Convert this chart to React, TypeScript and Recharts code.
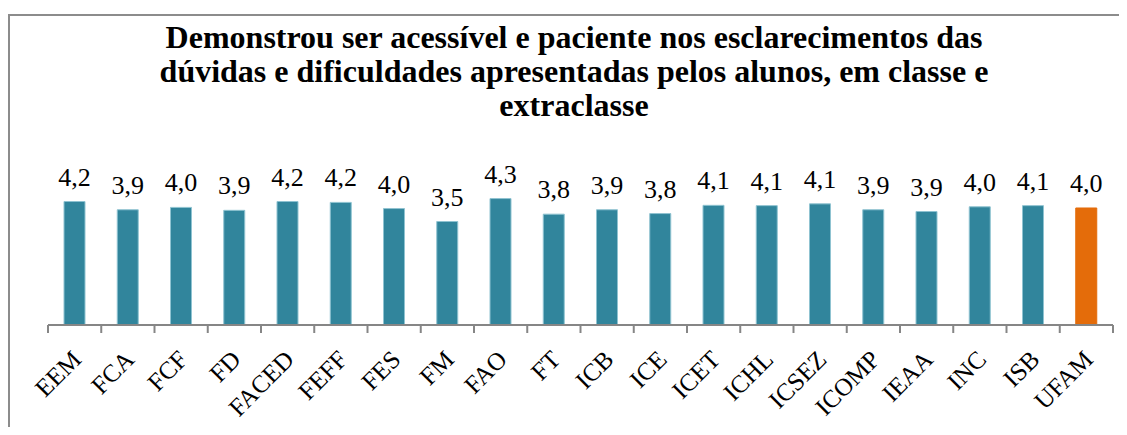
import React from "react";
import { BarChart, Bar, XAxis, YAxis, Cell, LabelList } from "recharts";

const categories = ["EEM", "FCA", "FCF", "FD", "FACED", "FEFF", "FES", "FM", "FAO", "FT", "ICB", "ICE", "ICET", "ICHL", "ICSEZ", "ICOMP", "IEAA", "INC", "ISB", "UFAM"];
const values = [4.2, 3.92, 4.0, 3.9, 4.2, 4.17, 3.96, 3.52, 4.3, 3.77, 3.92, 3.79, 4.07, 4.06, 4.12, 3.92, 3.86, 4.02, 4.06, 3.98];
const titleLines = [
  "Demonstrou ser acessível e paciente nos esclarecimentos das",
  "dúvidas e dificuldades apresentadas pelos alunos, em classe e",
  "extraclasse",
];

const TEAL = "#31859C";
const ORANGE = "#E46C0A";
const FONT = "'Liberation Serif', 'Times New Roman', serif";

const data = categories.map((c, i) => ({ name: c, value: values[i] }));

const fmt = (v: any) => Number(v).toFixed(1).replace(".", ",");

const CatTick = (props: any) => {
  const { x, y, payload, index, visibleTicksCount } = props;
  const half = payload && typeof payload.offset === "number" && payload.offset > 0 ? payload.offset : 26.6;
  const last = index === (visibleTicksCount ?? categories.length) - 1;
  const tx = x + 8;
  const ty = y + 36;
  return (
    <g>
      <line x1={x - half} x2={x - half} y1={y} y2={y + 8} stroke="#868686" strokeWidth={2} />
      {last && <line x1={x + half} x2={x + half} y1={y} y2={y + 8} stroke="#868686" strokeWidth={2} />}
      <text
        x={tx}
        y={ty}
        textAnchor="end"
        fontSize={25}
        fontFamily={FONT}
        fill="#000"
        transform={`rotate(-45 ${tx} ${ty})`}
      >
        {payload.value}
      </text>
    </g>
  );
};

const ValueLabel = (props: any) => {
  const { x, y, width, value } = props;
  return (
    <text x={x + width / 2} y={y - 16} textAnchor="middle" fontSize={26} fontFamily={FONT} fill="#000">
      {fmt(value)}
    </text>
  );
};

export default function App() {
  return (
    <div style={{ position: "relative", width: 1119, height: 427, marginBottom: -8, overflow: "hidden" }}>
      <div
        style={{
          position: "absolute",
          left: 0,
          top: 6,
          width: 1140,
          height: 440,
          border: "2px solid #8c8c8c",
          boxSizing: "border-box",
        }}
      />
      <div
        style={{
          position: "absolute",
          left: 0,
          top: 12,
          width: 1132,
          textAlign: "center",
          fontFamily: FONT,
          fontWeight: "bold",
          fontSize: 32,
          lineHeight: "34px",
          color: "#000",
          whiteSpace: "nowrap",
        }}
      >
        {titleLines.map((l, i) => (
          <div key={i}>{l}</div>
        ))}
      </div>
      <div style={{ position: "absolute", left: 0, top: 0 }}>
        <BarChart
          width={1120}
          height={427}
          data={data}
          margin={{ top: 170, right: 15, bottom: 10, left: 40 }}
          barSize={21}
        >
          <XAxis
            dataKey="name"
            interval={0}
            height={100}
            tickLine={false}
            tickSize={0}
            tickMargin={0}
            axisLine={{ stroke: "#868686", strokeWidth: 2 }}
            tick={<CatTick />}
          />
          <YAxis hide domain={[0, 5]} />
          <Bar dataKey="value" isAnimationActive={false}>
            {data.map((d) => (
              <Cell
                key={d.name}
                fill={d.name === "UFAM" ? ORANGE : TEAL}
                stroke={d.name === "UFAM" ? ORANGE : "#8fc3d1"}
                strokeWidth={1}
              />
            ))}
            <LabelList dataKey="value" content={<ValueLabel />} />
          </Bar>
        </BarChart>
      </div>
    </div>
  );
}
